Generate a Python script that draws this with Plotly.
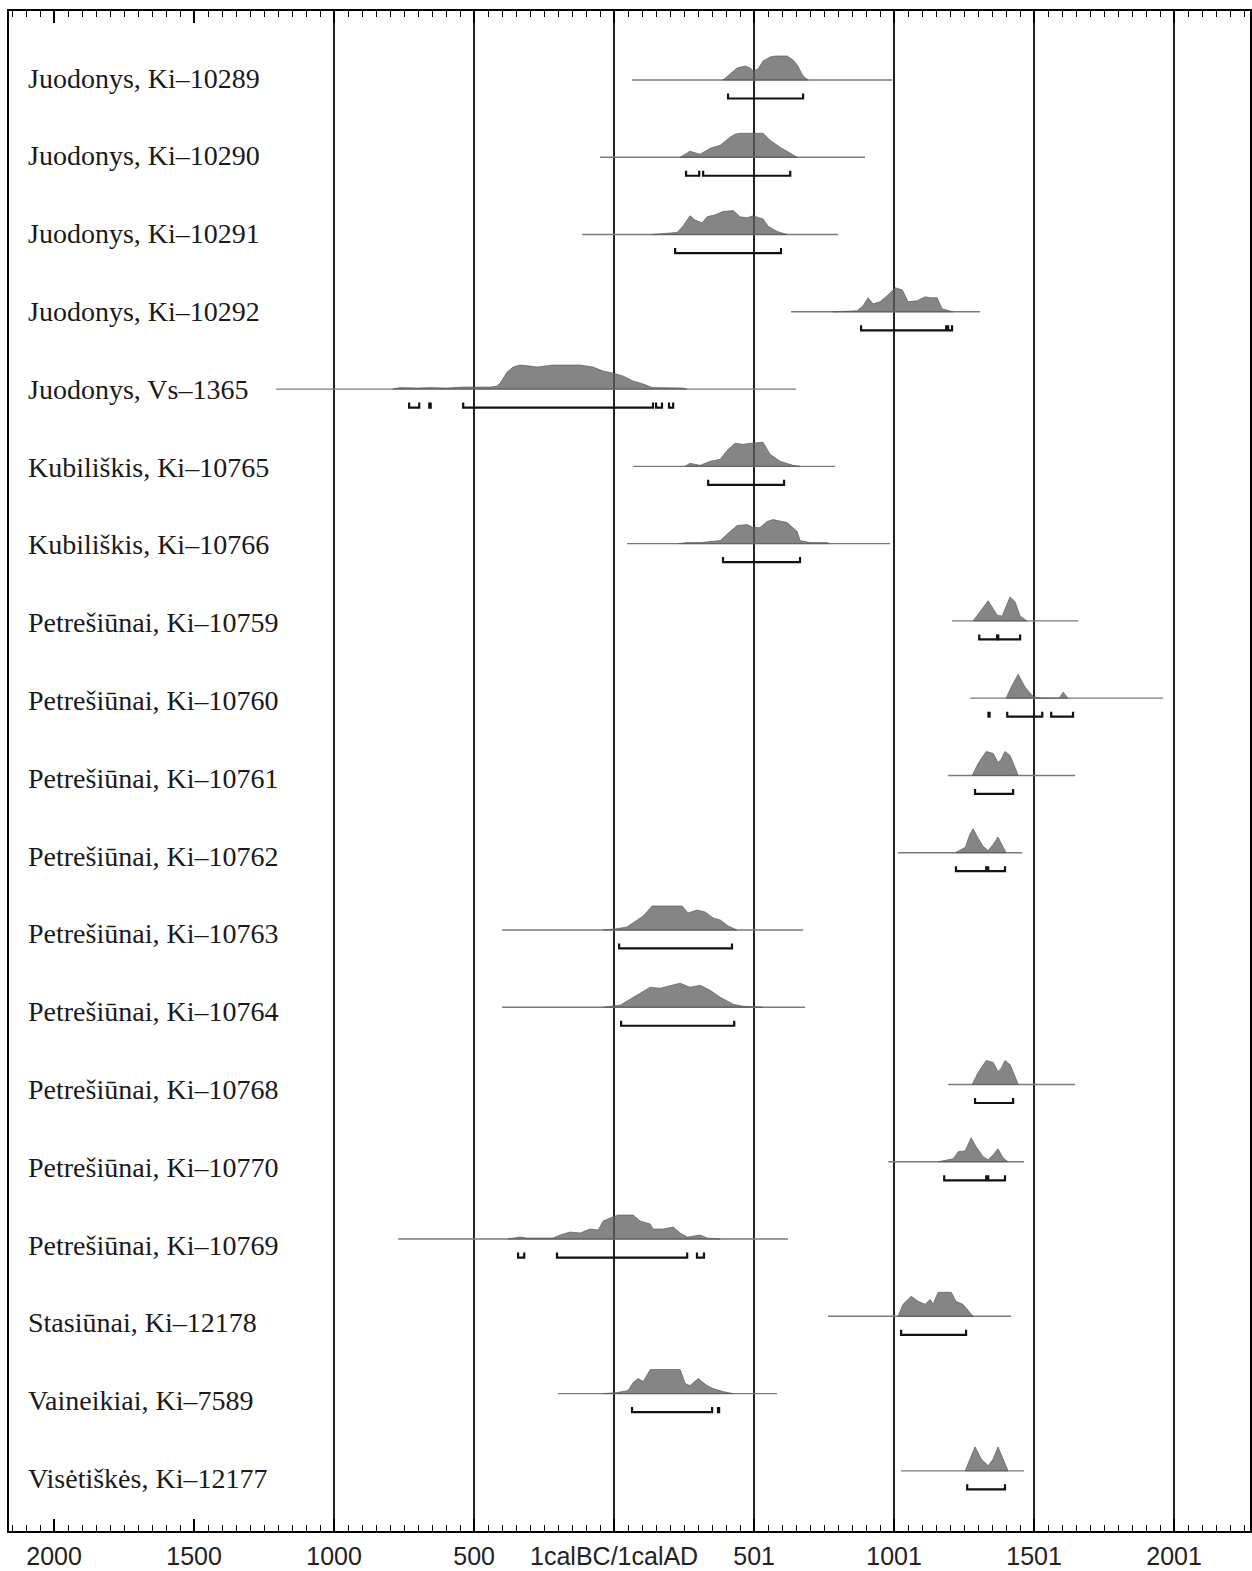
import plotly.graph_objects as go

# ---------------- axis data ----------------
X_RANGE = [-2161, 2271]
TICK_YEARS = [-2000, -1500, -1000, -500, 0, 500, 1000, 1500, 2000]
TICK_TEXT = ["2000", "1500", "1000", "500", "1calBC/1calAD", "501", "1001", "1501", "2001"]
GRID_YEARS = [-1000, -500, 0, 500, 1000, 1500, 2000]

LABELS = [
    "Juodonys, Ki–10289", "Juodonys, Ki–10290", "Juodonys, Ki–10291", "Juodonys, Ki–10292",
    "Juodonys, Vs–1365", "Kubiliškis, Ki–10765", "Kubiliškis, Ki–10766",
    "Petrešiūnai, Ki–10759", "Petrešiūnai, Ki–10760", "Petrešiūnai, Ki–10761",
    "Petrešiūnai, Ki–10762", "Petrešiūnai, Ki–10763", "Petrešiūnai, Ki–10764",
    "Petrešiūnai, Ki–10768", "Petrešiūnai, Ki–10770", "Petrešiūnai, Ki–10769",
    "Stasiūnai, Ki–12178", "Vaineikiai, Ki–7589", "Visėtiškės, Ki–12177",
]

# ---------------- sample data (years: negative = BC) ----------------
J10289_SPAN = [64, 993]
J10289_YEARS = [389, 414, 439, 468, 486, 496, 514, 532, 557, 575, 618, 639, 654, 675, 693]
J10289_PROB = [0, 6, 12, 14, 12, 9, 11, 19, 23, 24, 24, 20, 15, 4, 0]
J10289_RANGES = [[407, 675]]

J10290_SPAN = [-50, 896]
J10290_YEARS = [236, 271, 307, 343, 379, 414, 432, 450, 532, 557, 593, 629, 654]
J10290_PROB = [0, 6, 3, 9, 12, 20, 23, 24, 24, 17, 10, 4, 0]
J10290_RANGES = [[257, 304], [318, 629]]

J10291_SPAN = [-114, 800]
J10291_YEARS = [136, 225, 246, 271, 289, 314, 332, 361, 389, 425, 450, 475, 496, 532, 550, 582, 618]
J10291_PROB = [0, 2, 8, 18, 14, 11, 17, 19, 22, 23, 17, 16, 18, 15, 8, 3, 0]
J10291_RANGES = [[218, 596]]

J10292_SPAN = [632, 1307]
J10292_YEARS = [782, 868, 889, 907, 925, 950, 979, 1004, 1029, 1050, 1082, 1111, 1129, 1154, 1171, 1211]
J10292_PROB = [0, 1, 6, 14, 8, 10, 17, 24, 22, 10, 11, 15, 14, 14, 3, 0]
J10292_RANGES = [[882, 1186], [1193, 1207]]

J1365_SPAN = [-1207, 650]
J1365_YEARS = [-790, -764, -700, -657, -600, -539, -440, -418, -407, -382, -361, -336, -300, -275,
               -218, -168, -121, -75, -39, -4, 32, 68, 104, 136, 200, 246, 260]
J1365_PROB = [0, 1.5, 1, 1.5, 1, 2, 2, 3, 6, 17, 22, 24, 23, 22,
              24, 24, 24, 22, 18, 16, 13, 8, 5, 1.5, 1, 1, 0]
J1365_RANGES = [[-732, -696], [-660, -655], [-539, 139], [150, 171], [196, 211]]

K10765_SPAN = [68, 789]
K10765_YEARS = [254, 271, 307, 343, 379, 404, 432, 461, 486, 532, 557, 593, 639, 664]
K10765_PROB = [0, 3, 1, 5, 7, 16, 23, 22, 23, 24, 12, 5, 1, 0]
K10765_RANGES = [[336, 607]]

K10766_SPAN = [46, 986]
K10766_YEARS = [230, 261, 307, 379, 414, 439, 475, 496, 521, 546, 568, 618, 654, 664, 700, 761, 771]
K10766_PROB = [0, 1, 1, 3, 12, 18, 19, 16, 16, 22, 24, 21, 12, 3, 1, 1, 0]
K10766_RANGES = [[389, 664]]

P10759_SPAN = [1207, 1657]
P10759_YEARS = [1282, 1307, 1336, 1368, 1386, 1404, 1414, 1432, 1450, 1475]
P10759_PROB = [0, 10, 21, 6, 5, 18, 25, 20, 5, 0]
P10759_RANGES = [[1304, 1368], [1372, 1450]]

P10760_SPAN = [1271, 1961]
P10760_YEARS = [1400, 1418, 1443, 1468, 1489, 1500, 1532, 1589, 1604, 1621]
P10760_PROB = [0, 11, 24, 11, 4, 1, 0, 0, 6, 0]
P10760_RANGES = [[1337, 1341], [1404, 1529], [1561, 1639]]

P10761_SPAN = [1193, 1646]
P10761_YEARS = [1279, 1300, 1329, 1354, 1371, 1382, 1396, 1414, 1432, 1443]
P10761_PROB = [0, 12, 24, 22, 13, 16, 24, 20, 8, 0]
P10761_RANGES = [[1289, 1425]]

P10762_SPAN = [1014, 1457]
P10762_YEARS = [1218, 1254, 1271, 1282, 1300, 1318, 1336, 1354, 1371, 1389, 1400]
P10762_PROB = [0, 5, 18, 23, 14, 6, 2, 8, 15, 6, 0]
P10762_RANGES = [[1221, 1329], [1336, 1396]]

P10763_SPAN = [-400, 675]
P10763_YEARS = [-39, 4, 46, 82, 104, 136, 189, 243, 264, 296, 325, 354, 379, 407, 439]
P10763_PROB = [0, 1, 3, 10, 14, 24, 24, 24, 17, 20, 18, 12, 10, 4, 0]
P10763_RANGES = [[18, 421]]

P10764_SPAN = [-400, 682]
P10764_YEARS = [-39, 21, 57, 82, 129, 164, 225, 236, 271, 307, 343, 379, 425, 461, 532]
P10764_PROB = [0, 2, 8, 12, 20, 19, 23, 24, 20, 22, 17, 10, 3, 1, 0]
P10764_RANGES = [[25, 429]]

P10768_SPAN = [1193, 1646]
P10768_YEARS = [1279, 1300, 1329, 1354, 1371, 1382, 1396, 1414, 1432, 1443]
P10768_PROB = [0, 12, 24, 22, 13, 16, 24, 20, 8, 0]
P10768_RANGES = [[1289, 1425]]

P10770_SPAN = [979, 1464]
P10770_YEARS = [1157, 1211, 1229, 1254, 1275, 1293, 1318, 1336, 1354, 1371, 1389, 1407]
P10770_PROB = [0, 3, 10, 11, 24, 15, 5, 2, 7, 13, 4, 0]
P10770_RANGES = [[1179, 1329], [1336, 1396]]

P10769_SPAN = [-771, 621]
P10769_YEARS = [-380, -361, -336, -311, -218, -193, -157, -121, -86, -57, -39, -14, 14, 68, 93,
                129, 139, 175, 211, 236, 261, 307, 332, 379]
P10769_PROB = [0, 1, 2, 1, 1, 4, 7, 6, 10, 9, 18, 21, 24, 24, 18,
               15, 10, 10, 12, 6, 2, 4, 1, 0]
P10769_RANGES = [[-343, -321], [-204, 261], [296, 321]]

S12178_SPAN = [764, 1418]
S12178_YEARS = [1014, 1032, 1061, 1086, 1111, 1129, 1139, 1157, 1204, 1221, 1246, 1271, 1282]
S12178_PROB = [0, 12, 20, 15, 12, 17, 12, 24, 24, 15, 12, 3, 0]
S12178_RANGES = [[1025, 1257]]

V7589_SPAN = [-200, 582]
V7589_YEARS = [-39, 11, 50, 68, 86, 104, 129, 175, 211, 236, 254, 271, 300, 332, 354, 389, 425]
V7589_PROB = [0, 1, 3, 11, 15, 12, 24, 24, 24, 24, 10, 8, 15, 8, 5, 2, 0]
V7589_RANGES = [[64, 350], [371, 375]]

V12177_SPAN = [1025, 1464]
V12177_YEARS = [1254, 1271, 1289, 1311, 1336, 1354, 1371, 1389, 1407]
V12177_PROB = [0, 12, 24, 12, 5, 12, 24, 12, 0]
V12177_RANGES = [[1261, 1396]]

SAMPLES = [
    (J10289_SPAN, J10289_YEARS, J10289_PROB, J10289_RANGES),
    (J10290_SPAN, J10290_YEARS, J10290_PROB, J10290_RANGES),
    (J10291_SPAN, J10291_YEARS, J10291_PROB, J10291_RANGES),
    (J10292_SPAN, J10292_YEARS, J10292_PROB, J10292_RANGES),
    (J1365_SPAN, J1365_YEARS, J1365_PROB, J1365_RANGES),
    (K10765_SPAN, K10765_YEARS, K10765_PROB, K10765_RANGES),
    (K10766_SPAN, K10766_YEARS, K10766_PROB, K10766_RANGES),
    (P10759_SPAN, P10759_YEARS, P10759_PROB, P10759_RANGES),
    (P10760_SPAN, P10760_YEARS, P10760_PROB, P10760_RANGES),
    (P10761_SPAN, P10761_YEARS, P10761_PROB, P10761_RANGES),
    (P10762_SPAN, P10762_YEARS, P10762_PROB, P10762_RANGES),
    (P10763_SPAN, P10763_YEARS, P10763_PROB, P10763_RANGES),
    (P10764_SPAN, P10764_YEARS, P10764_PROB, P10764_RANGES),
    (P10768_SPAN, P10768_YEARS, P10768_PROB, P10768_RANGES),
    (P10770_SPAN, P10770_YEARS, P10770_PROB, P10770_RANGES),
    (P10769_SPAN, P10769_YEARS, P10769_PROB, P10769_RANGES),
    (S12178_SPAN, S12178_YEARS, S12178_PROB, S12178_RANGES),
    (V7589_SPAN, V7589_YEARS, V7589_PROB, V7589_RANGES),
    (V12177_SPAN, V12177_YEARS, V12177_PROB, V12177_RANGES),
]

# ---------------- geometry (in row units) ----------------
ROW_PX = 77.27
PEAK = 24 / ROW_PX          # height of tallest point of each distribution
BR_OFF = 18.5 / ROW_PX      # bracket offset below baseline
BR_TICK = 5 / ROW_PX        # bracket end tick height
Y_RANGE = [(1531 - 80) / ROW_PX, (11 - 80) / ROW_PX]

fig = go.Figure()

for i, (span, yrs, prob, ranges) in enumerate(SAMPLES):
    # baseline
    fig.add_trace(go.Scatter(x=span, y=[i, i], mode="lines",
                             line=dict(color="#7a7a7a", width=1.4),
                             hoverinfo="skip", showlegend=False))
    # probability distribution
    m = max(prob)
    ys = [i - p / m * PEAK for p in prob]
    fig.add_trace(go.Scatter(x=list(yrs) + [yrs[-1], yrs[0]], y=ys + [i, i],
                             mode="lines", fill="toself",
                             fillcolor="rgba(95,95,95,0.76)",
                             line=dict(color="rgba(90,90,90,0.85)", width=0.8),
                             hoverinfo="skip", showlegend=False))
    # range brackets
    bx, by = [], []
    yb = i + BR_OFF
    for a, b in ranges:
        bx += [a, a, b, b, None]
        by += [yb - BR_TICK, yb, yb, yb - BR_TICK, None]
    fig.add_trace(go.Scatter(x=bx, y=by, mode="lines",
                             line=dict(color="#111111", width=2.2),
                             hoverinfo="skip", showlegend=False))

# sample labels
for i, lab in enumerate(LABELS):
    fig.add_annotation(x=17 / 1241, xref="paper", xanchor="left",
                       y=i + (-2 + 0.53 * i) / ROW_PX, yref="y", yanchor="middle",
                       text=lab, showarrow=False,
                       font=dict(family="Liberation Serif", size=28, color="#1a1a1a"))

fig.update_layout(
    width=1252, height=1571,
    margin=dict(l=9, r=2, t=11, b=40, autoexpand=False),
    paper_bgcolor="white", plot_bgcolor="white",
    hovermode=False,
    xaxis=dict(range=X_RANGE, tickmode="array", tickvals=TICK_YEARS, ticktext=TICK_TEXT,
               showgrid=False, zeroline=False, automargin=False,
               ticks="inside", ticklen=12, tickwidth=1.5, tickcolor="black",
               ticklabelstandoff=2,
               minor=dict(dtick=50, tick0=0, ticks="inside", ticklen=6,
                          tickwidth=1, tickcolor="black", showgrid=False),
               showline=True, linecolor="black", linewidth=2.2, mirror="ticks",
               tickfont=dict(family="Liberation Sans", size=25, color="#222222")),
    xaxis2=dict(range=X_RANGE, overlaying="x", matches="x", tickmode="array",
                tickvals=GRID_YEARS, showgrid=True, gridcolor="#222222", gridwidth=1.6,
                showticklabels=False, ticks="", zeroline=False, showline=False,
                automargin=False),
    yaxis=dict(range=Y_RANGE, showgrid=False, zeroline=False, showticklabels=False,
               automargin=False,
               ticks="", showline=True, linecolor="black", linewidth=2.2, mirror=True),
)

# invisible trace so the grid axis is rendered
fig.add_trace(go.Scatter(x=[X_RANGE[0]], y=[0], xaxis="x2", mode="markers",
                         marker=dict(opacity=0), hoverinfo="skip", showlegend=False))

fig.write_html("out.html",
               config={"displayModeBar": False},
               post_script="document.body.style.margin='0';document.body.style.overflow='hidden';")
